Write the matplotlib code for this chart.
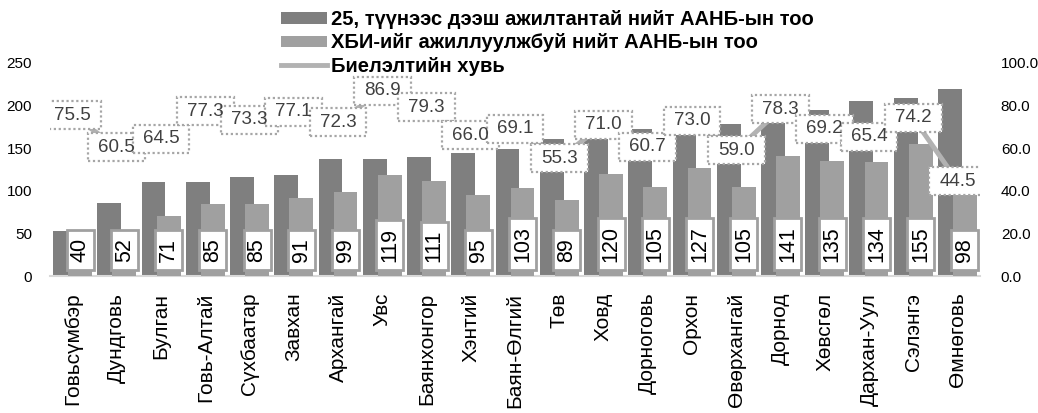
import matplotlib
matplotlib.use("Agg")
import matplotlib.pyplot as plt
from matplotlib.patches import Rectangle, Patch
from matplotlib.lines import Line2D
from matplotlib.ticker import FormatStrFormatter
from matplotlib.transforms import IdentityTransform
import numpy as np

plt.rcParams['font.family'] = ['Liberation Sans', 'DejaVu Sans']

categories = ['Говьсүмбэр', 'Дундговь', 'Булган', 'Говь-Алтай', 'Сүхбаатар', 'Завхан',
              'Архангай', 'Увс', 'Баянхонгор', 'Хэнтий', 'Баян-Өлгий', 'Төв', 'Ховд',
              'Дорноговь', 'Орхон', 'Өвөрхангай', 'Дорнод', 'Хөвсгөл', 'Дархан-Уул',
              'Сэлэнгэ', 'Өмнөговь']
total_firms = [53, 86, 110, 110, 116, 118, 137, 137, 140, 144, 149, 161, 169, 173, 174,
               178, 180, 195, 205, 209, 220]
disabled_firms = [40, 52, 71, 85, 85, 91, 99, 119, 111, 95, 103, 89, 120, 105, 127,
                  105, 141, 135, 134, 155, 98]
percent = [75.5, 60.5, 64.5, 77.3, 73.3, 77.1, 72.3, 86.9, 79.3, 66.0, 69.1, 55.3, 71.0,
           60.7, 73.0, 59.0, 78.3, 69.2, 65.4, 74.2, 44.5]
legend_labels = ['25, түүнээс дээш ажилтантай нийт ААНБ-ын тоо',
                 'ХБИ-ийг ажиллуулжбуй нийт ААНБ-ын тоо',
                 'Биелэлтийн хувь']

W, H = 1038, 413
fig = plt.figure(figsize=(W / 100, H / 100), dpi=100)
ax = fig.add_axes([50 / W, 1 - 276 / H, 930 / W, 213 / H])
ax2 = ax.twinx()

dark = '#7f7f7f'
light = '#a0a0a0'
linec = '#b2b2b2'

x = np.arange(len(categories))
bw = 0.54
off = 0.17
ax.bar(x - off, total_firms, width=bw, color=dark, zorder=2)
ax.bar(x + off, disabled_firms, width=bw, color=light, zorder=3)

ax.set_xlim(-0.51, len(categories) - 0.49)
ax.set_ylim(0, 250)
ax.set_yticks([0, 50, 100, 150, 200, 250])
ax2.set_ylim(0, 100)
ax2.set_yticks([0, 20, 40, 60, 80, 100])
ax2.yaxis.set_major_formatter(FormatStrFormatter('%.1f'))

for a in (ax, ax2):
    for s in a.spines.values():
        s.set_visible(False)
    a.tick_params(length=0, labelsize=11, colors='#000000')
ax.tick_params(axis='y', pad=13)
ax2.tick_params(axis='y', pad=15)
ax.spines['bottom'].set_visible(True)
ax.spines['bottom'].set_color('#d9d9d9')
ax.spines['bottom'].set_linewidth(1.5)

ax.set_xticks(x)
ax.set_xticklabels(categories, rotation=90, fontsize=15, va='top', ha='center')
ax.tick_params(axis='x', pad=12)

ax2.set_zorder(ax.get_zorder() + 1)
ax2.patch.set_visible(False)
ax2.plot(x, percent, color=linec, lw=3.5, zorder=2, solid_capstyle='butt')

bar_texts = []
for xi, v in zip(x, disabled_firms):
    t = ax2.annotate(str(v), xy=(xi + off, 0), xytext=(0, 10), textcoords='offset points',
                     rotation=90, ha='center', va='bottom', fontsize=15.5, color='black',
                     zorder=6)
    bar_texts.append(t)

pct_texts = []
for xi, p in zip(x, percent):
    t = ax2.text(xi, p, f'{p:.1f}', ha='center', va='center', fontsize=13.5,
                 color='#404040', zorder=6)
    pct_texts.append(t)

handles = [Patch(facecolor=dark, edgecolor='none'),
           Patch(facecolor=light, edgecolor='none'),
           Line2D([0], [0], color=linec, lw=3.5)]
fig.legend(handles, legend_labels, loc='upper left', bbox_to_anchor=(281 / W, 1 - 10 / H),
           frameon=False, prop={'weight': 'bold', 'size': 14.5},
           handlelength=2.3, handleheight=0.5, handletextpad=0.2, labelspacing=0.22,
           borderpad=0, borderaxespad=0)

fig.canvas.draw()
r = fig.canvas.get_renderer()
for t in bar_texts:
    bb = t.get_window_extent(r)
    rect = Rectangle((bb.x0 - 3, bb.y0 - 8), bb.width + 6, bb.height + 16,
                     transform=IdentityTransform(), facecolor='white', edgecolor=light,
                     lw=2, zorder=5)
    ax2.add_artist(rect)
for t in pct_texts:
    bb = t.get_window_extent(r)
    rect = Rectangle((bb.x0 - 10, bb.y0 - 5.5), bb.width + 20, bb.height + 11,
                     transform=IdentityTransform(), facecolor='white', edgecolor='#a6a6a6',
                     lw=1.6, ls=(0, (1, 1.2)), zorder=5)
    ax2.add_artist(rect)

fig.savefig('out.png', dpi=100)
